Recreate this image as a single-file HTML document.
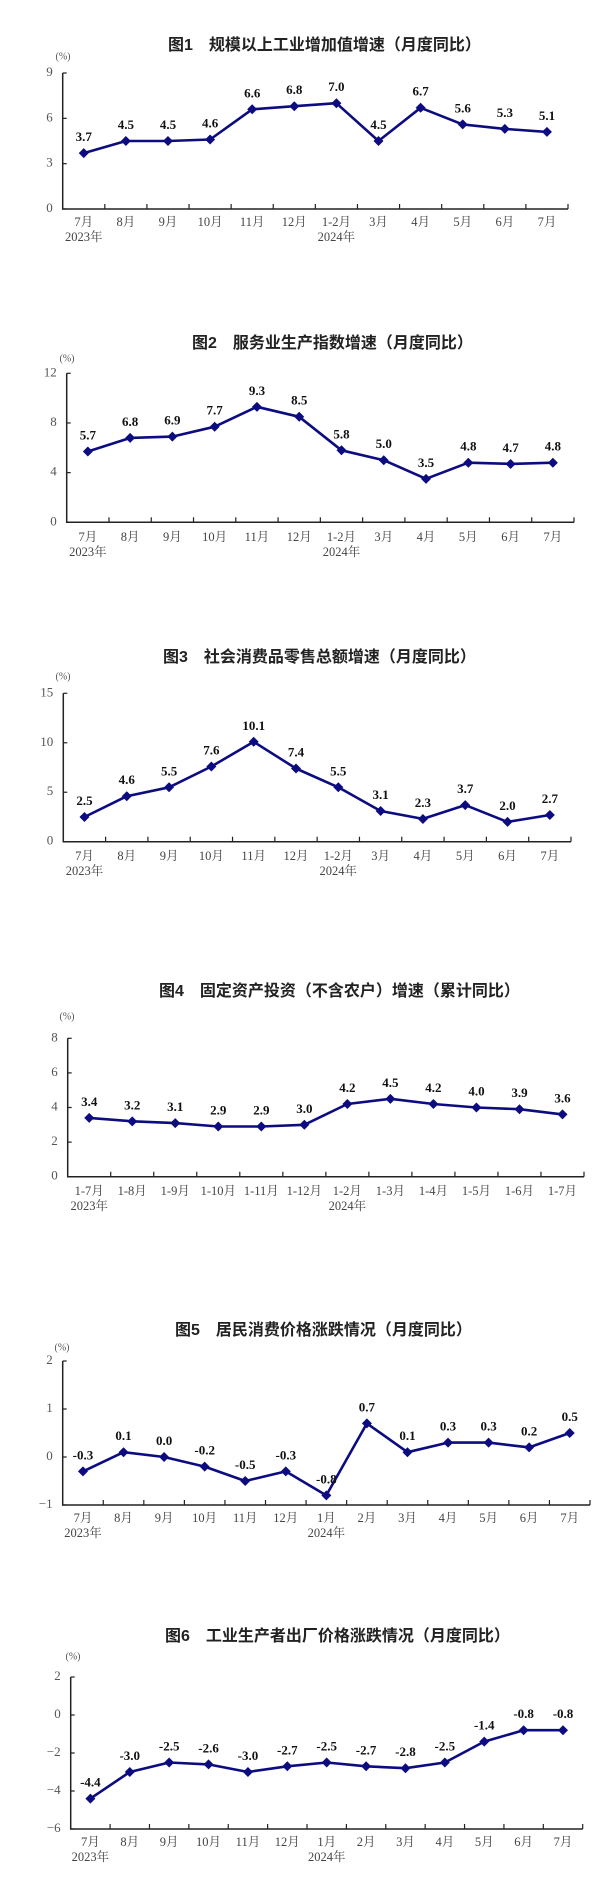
<!DOCTYPE html>
<html><head><meta charset="utf-8">
<style>
html,body{margin:0;padding:0;background:#fff;}
svg{display:block;}
.title{font-family:"Liberation Sans","Noto Sans CJK SC",sans-serif;font-size:16px;font-weight:bold;fill:#222;}
.tick{font-family:"Liberation Serif","Noto Serif CJK SC",serif;font-size:13px;fill:#555;}
.cat{font-family:"Liberation Serif","Noto Serif CJK SC",serif;font-size:12.5px;fill:#444;}
.unit{font-family:"Liberation Serif","Noto Serif CJK SC",serif;font-size:10px;fill:#555;}
.val{font-family:"Liberation Serif",serif;font-size:13px;font-weight:bold;fill:#111;}
</style></head>
<body>
<svg id="root" width="612" height="1891" viewBox="0 0 612 1891" xmlns="http://www.w3.org/2000/svg"></svg>
<script>
// Chart 1
const c1Cats = ["7月","8月","9月","10月","11月","12月","1-2月","3月","4月","5月","6月","7月"];
const c1Vals = [3.7,4.5,4.5,4.6,6.6,6.8,7.0,4.5,6.7,5.6,5.3,5.1];
const c1Ticks = [0,3,6,9];
// Chart 2
const c2Cats = ["7月","8月","9月","10月","11月","12月","1-2月","3月","4月","5月","6月","7月"];
const c2Vals = [5.7,6.8,6.9,7.7,9.3,8.5,5.8,5.0,3.5,4.8,4.7,4.8];
const c2Ticks = [0,4,8,12];
// Chart 3
const c3Cats = ["7月","8月","9月","10月","11月","12月","1-2月","3月","4月","5月","6月","7月"];
const c3Vals = [2.5,4.6,5.5,7.6,10.1,7.4,5.5,3.1,2.3,3.7,2.0,2.7];
const c3Ticks = [0,5,10,15];
// Chart 4
const c4Cats = ["1-7月","1-8月","1-9月","1-10月","1-11月","1-12月","1-2月","1-3月","1-4月","1-5月","1-6月","1-7月"];
const c4Vals = [3.4,3.2,3.1,2.9,2.9,3.0,4.2,4.5,4.2,4.0,3.9,3.6];
const c4Ticks = [0,2,4,6,8];
// Chart 5
const c5Cats = ["7月","8月","9月","10月","11月","12月","1月","2月","3月","4月","5月","6月","7月"];
const c5Vals = [-0.3,0.1,0.0,-0.2,-0.5,-0.3,-0.8,0.7,0.1,0.3,0.3,0.2,0.5];
const c5Ticks = [-1,0,1,2];
// Chart 6
const c6Cats = ["7月","8月","9月","10月","11月","12月","1月","2月","3月","4月","5月","6月","7月"];
const c6Vals = [-4.4,-3.0,-2.5,-2.6,-3.0,-2.7,-2.5,-2.7,-2.8,-2.5,-1.4,-0.8,-0.8];
const c6Ticks = [-6,-4,-2,0,2];

const NS="http://www.w3.org/2000/svg";
const root=document.getElementById('root');
function mk(tag,attrs,parent,text){const e=document.createElementNS(NS,tag);for(const k in attrs)e.setAttribute(k,attrs[k]);if(text!==undefined)e.textContent=text;parent.appendChild(e);return e;}

function chart(id,title,tx,ty,ux,uy,cats,vals,ticks,yearIdx,L,R,yTop,yBot,catY){
  const g=mk('g',{},root);
  
  
  const t=mk('text',{x:tx,y:ty,'class':'title','dominant-baseline':'middle'},g,title);
  
  
  const u=mk('text',{x:ux,y:uy,'class':'unit','text-anchor':'middle','dominant-baseline':'middle'},g,'(%)');
  
  
  const yMin=ticks[0],yMax=ticks[ticks.length-1];
  const ys=v=>yBot-(v-yMin)/(yMax-yMin)*(yBot-yTop);
  const n=cats.length,step=(R-L)/n;
  const xs=i=>L+step*(i+0.5);
  // axes
  const ax=mk('path',{d:`M${L} ${yTop}V${yBot}H${R}`,stroke:'#222','stroke-width':1.5,fill:'none'},g);
  
  
  ticks.forEach(v=>{
    const y=ys(v);
    mk('line',{x1:L,x2:L+4,y1:y,y2:y,stroke:'#222','stroke-width':1.2},g);
    const tl=mk('text',{x:L-10,y:y,'class':'tick','text-anchor':'end','dominant-baseline':'middle'},g,String(v).replace('-','−'));
    
    
  });
  for(let i=1;i<=n;i++){const x=L+step*i;mk('line',{x1:x,x2:x,y1:yBot,y2:yBot-5,stroke:'#222','stroke-width':1.2},g);}
  cats.forEach((c,i)=>{
    const cl=mk('text',{x:xs(i),y:catY,'class':'cat','text-anchor':'middle','dominant-baseline':'middle'},g,c);
    
    
  });
  const y1=mk('text',{x:xs(0),y:catY+15,'class':'cat','text-anchor':'middle','dominant-baseline':'middle'},g,'2023年');
  
  
  const y2=mk('text',{x:xs(yearIdx),y:catY+15,'class':'cat','text-anchor':'middle','dominant-baseline':'middle'},g,'2024年');
  
  
  const pts=vals.map((v,i)=>xs(i).toFixed(1)+','+ys(v).toFixed(1)).join(' ');
  const pl=mk('polyline',{points:pts,fill:'none',stroke:'#0c0c80','stroke-width':2.6,'stroke-linejoin':'round'},g);
  
  
  vals.forEach((v,i)=>{
    const x=xs(i),y=ys(v),r=5;
    const m=mk('polygon',{points:`${x},${y-r} ${x+r},${y} ${x},${y+r} ${x-r},${y}`,fill:'#0c0c80'},g);
    
    
    const lb=mk('text',{x:x,y:y-15,'class':'val','text-anchor':'middle','dominant-baseline':'middle'},g,v.toFixed(1));
    
    
  });
}
chart('chart-1-industrial','图1　规模以上工业增加值增速（月度同比）',168,46,63,57,c1Cats,c1Vals,c1Ticks,6,62.7,568,73,209,223);
chart('chart-2-services','图2　服务业生产指数增速（月度同比）',192,344,67,359,c2Cats,c2Vals,c2Ticks,6,66.7,574,373.3,522.3,538);
chart('chart-3-retail','图3　社会消费品零售总额增速（月度同比）',163,658,63,677,c3Cats,c3Vals,c3Ticks,6,63.3,571,693.3,841.7,857);
chart('chart-4-investment','图4　固定资产投资（不含农户）增速（累计同比）',159,992,67,1017,c4Cats,c4Vals,c4Ticks,6,67.7,584,1038.3,1176.7,1192);
chart('chart-5-cpi','图5　居民消费价格涨跌情况（月度同比）',175,1331,62,1348,c5Cats,c5Vals,c5Ticks,6,62.7,590,1361,1505,1519);
chart('chart-6-ppi','图6　工业生产者出厂价格涨跌情况（月度同比）',165,1637,73,1657,c6Cats,c6Vals,c6Ticks,6,70.7,582.7,1677,1829,1843);
</script>
</body></html>
